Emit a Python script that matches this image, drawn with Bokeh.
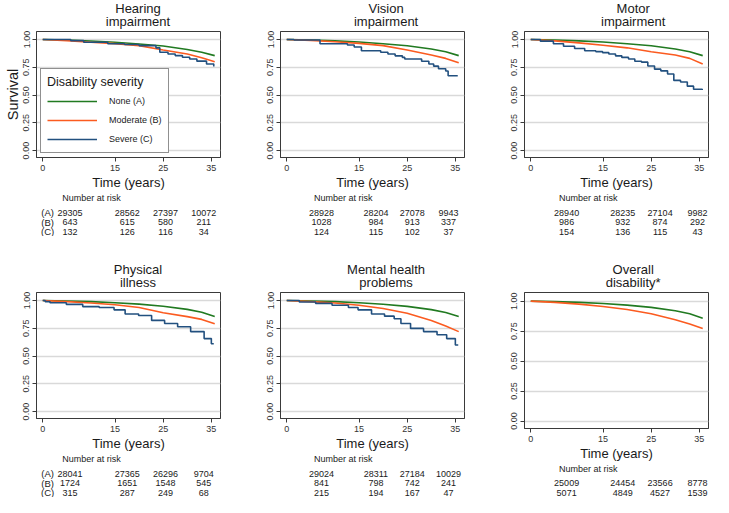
from bokeh.plotting import figure
from bokeh.layouts import column, row
from bokeh.models import Range1d, FixedTicker, NumeralTickFormatter, Legend, LegendItem, Spacer
from bokeh.embed import file_html
from bokeh.resources import INLINE
from bokeh.core.properties import value

FONT = "Liberation Sans"
GREEN = "#217a21"
ORANGE = "#fb5b20"
BLUE = "#22507f"
TXT = "#1a1a1a"

# ---------------- data ----------------
GROUP_LABELS = ["None (A)", "Moderate (B)", "Severe (C)"]
ROW_TAGS = ["(A)", "(B)", "(C)"]
PANEL_TITLES = [("Hearing", "impairment"), ("Vision", "impairment"), ("Motor", "impairment"),
                ("Physical", "illness"), ("Mental health", "problems"), ("Overall", "disability*")]
X_TICKS = [0, 15, 25, 35]
Y_TICKS = [0, 0.25, 0.5, 0.75, 1.0]

# times (years) for the smooth curves of the large groups
T_SMOOTH = [0, 5, 10, 15, 20, 25, 30, 33, 35.7]

hearing_none = [1.0, 0.995, 0.987, 0.975, 0.960, 0.942, 0.910, 0.885, 0.855]
hearing_mod = [1.0, 0.990, 0.975, 0.963, 0.945, 0.905, 0.870, 0.835, 0.800]
hearing_sev_t = [0, 5.8, 8.5, 13.5, 17, 20, 23.5, 24.3, 26, 27.5, 29, 30.5, 32, 34, 35.5]
hearing_sev_s = [1.0, 0.99, 0.975, 0.962, 0.955, 0.945, 0.925, 0.885, 0.87, 0.855, 0.84, 0.825, 0.805, 0.78, 0.757]

vision_none = [1.0, 0.995, 0.988, 0.977, 0.962, 0.944, 0.915, 0.890, 0.855]
vision_mod = [1.0, 0.992, 0.980, 0.965, 0.945, 0.905, 0.860, 0.830, 0.790]
vision_sev_t = [0, 1.5, 6.9, 12.6, 14, 15.5, 19.5, 21, 22.5, 24, 24.5, 28, 29.5, 30.5, 31.5, 33, 33.5, 35.5]
vision_sev_s = [1.0, 0.995, 0.962, 0.95, 0.933, 0.899, 0.885, 0.87, 0.853, 0.839, 0.824, 0.804, 0.78, 0.76, 0.737, 0.717, 0.674, 0.674]

motor_none = [1.0, 0.995, 0.988, 0.977, 0.962, 0.944, 0.915, 0.890, 0.855]
motor_mod = [1.0, 0.988, 0.970, 0.948, 0.925, 0.890, 0.860, 0.830, 0.780]
motor_sev_t = [0, 2.0, 4.7, 6.8, 9.1, 11.2, 13.5, 14.9, 16.2, 17.6, 18.9, 20.3, 21.6, 23.0, 24.3,
               25.7, 27.0, 28.4, 29.7, 31.1, 32.5, 33.8, 35.6]
motor_sev_s = [1.0, 0.985, 0.962, 0.939, 0.919, 0.899, 0.891, 0.882, 0.870, 0.853, 0.839, 0.824, 0.804,
               0.796, 0.761, 0.733, 0.718, 0.690, 0.632, 0.617, 0.580, 0.552, 0.546]

physical_none = [1.0, 0.996, 0.990, 0.980, 0.967, 0.948, 0.920, 0.895, 0.855]
physical_mod = [1.0, 0.990, 0.978, 0.962, 0.937, 0.890, 0.855, 0.830, 0.790]
physical_sev_t = [0, 0.5, 1.5, 4.9, 8.3, 11.7, 14.8, 17.1, 19.9, 22.6, 25.3, 28.0, 30.7, 33.5, 35.0, 35.5]
physical_sev_s = [1.0, 0.99, 0.98, 0.965, 0.945, 0.937, 0.916, 0.879, 0.865, 0.821, 0.793, 0.764, 0.72, 0.657, 0.611, 0.611]

mental_none = [1.0, 0.996, 0.990, 0.980, 0.966, 0.947, 0.918, 0.892, 0.855]
mental_mod = [1.0, 0.990, 0.977, 0.957, 0.928, 0.885, 0.820, 0.770, 0.720]
mental_sev_t = [0, 2.6, 6.0, 9.4, 12.8, 14.8, 17.6, 20.3, 22.3, 23.7, 25.7, 28.4, 31.2, 33.2, 35.0, 35.6]
mental_sev_s = [1.0, 0.986, 0.974, 0.957, 0.937, 0.916, 0.879, 0.859, 0.836, 0.793, 0.749, 0.72, 0.692, 0.657, 0.60, 0.60]

overall_none = [1.0, 0.996, 0.990, 0.980, 0.967, 0.948, 0.920, 0.895, 0.858]
overall_dis = [1.0, 0.990, 0.975, 0.955, 0.930, 0.895, 0.845, 0.810, 0.771]

# number at risk at X_TICKS
hearing_nar = [[29305, 28562, 27397, 10072], [643, 615, 580, 211], [132, 126, 116, 34]]
vision_nar = [[28928, 28204, 27078, 9943], [1028, 984, 913, 337], [124, 115, 102, 37]]
motor_nar = [[28940, 28235, 27104, 9982], [986, 932, 874, 292], [154, 136, 115, 43]]
physical_nar = [[28041, 27365, 26296, 9704], [1724, 1651, 1548, 545], [315, 287, 249, 68]]
mental_nar = [[29024, 28311, 27184, 10029], [841, 798, 742, 241], [215, 194, 167, 47]]
overall_nar = [[25009, 24454, 23566, 8778], [5071, 4849, 4527, 1539]]

# ---------------- layout constants ----------------
X0, X1 = -1.3, 36.9
Y0, Y1 = -0.062, 1.072
F = 184                      # frame width
LB = [36, 48, 48]            # left borders per column
RB = [12, 12, 5]             # right borders per column
TITLE_H = 30
TOP, BOT = 1, 34
FRAME_H = 127
TABLE_H = 44
GAP = 25
EXTRA = 10                   # taller frame in last panel (only two rows at risk)
S = F / (X1 - X0)            # pixels per year


def strip(ci, height):
    """Axis-less figure sharing the panel's x scale, used for title and at-risk text."""
    W = LB[ci] + F + RB[ci]
    f = figure(width=W, height=height, output_backend="svg", toolbar_location=None,
               x_range=Range1d(X0 - LB[ci] / S, X1 + RB[ci] / S), y_range=Range1d(height, 0),
               x_axis_location=None, y_axis_location=None,
               min_border=0, min_border_left=0, min_border_right=0, min_border_top=0, min_border_bottom=0)
    f.outline_line_color = None
    f.grid.visible = False
    f.background_fill_color = "white"
    f.border_fill_color = "white"
    return f


def make_panel(ci, title, none_s, mod_s, sev_t, sev_s, nar, ylabel=False, legend=False, tags=False):
    W = LB[ci] + F + RB[ci]
    extra = EXTRA if sev_t is None else 0

    # ---- two-line title ----
    tf = strip(ci, TITLE_H)
    tf.text(x=[(X0 + X1) / 2] * 2, y=[8.3, 20.8], text=list(title), text_align="center",
            text_baseline="middle", text_font=value(FONT), text_font_size=value("13px"), text_color=TXT)

    # ---- survival plot ----
    p = figure(width=W, height=TOP + FRAME_H + BOT + extra, output_backend="svg", toolbar_location=None,
               x_range=Range1d(X0, X1), y_range=Range1d(Y0, Y1),
               min_border_left=LB[ci], min_border_right=RB[ci], min_border_top=TOP, min_border_bottom=BOT)
    p.outline_line_color = "#3a3a3a"
    p.outline_line_width = 1
    p.background_fill_color = "white"
    p.border_fill_color = "white"
    p.xgrid.visible = False
    p.ygrid.ticker = FixedTicker(ticks=Y_TICKS)
    p.ygrid.grid_line_color = "#d9d9d9"
    p.ygrid.grid_line_width = 1.5

    xa = p.xaxis[0]
    xa.ticker = FixedTicker(ticks=X_TICKS)
    xa.axis_label = "Time (years)"
    xa.axis_label_text_font = FONT
    xa.axis_label_text_font_size = "13px"
    xa.axis_label_text_font_style = "normal"
    xa.axis_label_text_color = TXT
    xa.axis_label_standoff = 1
    ya = p.yaxis[0]
    ya.ticker = FixedTicker(ticks=Y_TICKS)
    ya.formatter = NumeralTickFormatter(format="0.00")
    ya.major_label_orientation = "vertical"
    if ylabel:
        ya.axis_label = "Survival"
        ya.axis_label_text_font = FONT
        ya.axis_label_text_font_size = "14.5px"
        ya.axis_label_text_font_style = "normal"
        ya.axis_label_text_color = TXT
        ya.axis_label_standoff = 0
    for ax in (xa, ya):
        ax.axis_line_color = "#3a3a3a"
        ax.major_tick_line_color = "#3a3a3a"
        ax.major_tick_out = 4
        ax.major_tick_in = 0
        ax.minor_tick_line_color = None
        ax.major_label_text_font = FONT
        ax.major_label_text_font_size = "9px"
        ax.major_label_text_color = "#333333"
        ax.major_label_standoff = 3

    r1 = p.line(T_SMOOTH, none_s, line_color=GREEN, line_width=1.6)
    r2 = p.line(T_SMOOTH, mod_s, line_color=ORANGE, line_width=1.6)
    rends = [r1, r2]
    if sev_t is not None:
        r3 = p.step(sev_t, sev_s, mode="after", line_color=BLUE, line_width=1.6)
        rends.append(r3)

    if legend:
        lg = Legend(items=[LegendItem(label=lab, renderers=[r]) for lab, r in zip(GROUP_LABELS, rends)],
                    title="Disability severity", location=(4, 4), margin=0, padding=6,
                    spacing=5, glyph_width=50, glyph_height=14, label_height=14, label_standoff=12,
                    title_standoff=5, border_line_color="#222222", border_line_width=1,
                    background_fill_color="white", background_fill_alpha=1.0)
        lg.label_text_font = FONT
        lg.label_text_font_size = "9px"
        lg.label_text_color = TXT
        lg.title_text_font = FONT
        lg.title_text_font_size = "12.5px"
        lg.title_text_font_style = "normal"
        lg.title_text_color = TXT
        p.add_layout(lg)

    # ---- number at risk table ----
    th = TABLE_H - extra
    t = strip(ci, th)
    if extra:
        ys = [5.3, 19.0, 29.0]
    else:
        ys = [5.3, 20.3, 29.8, 39.2]
    t.text(x=[X0 - 3.5 / S], y=[ys[0]], text=["Number at risk"], text_align="left",
           text_baseline="middle", text_font=value(FONT), text_font_size=value("9px"), text_color=TXT)
    for k, counts in enumerate(nar):
        t.text(x=X_TICKS, y=[ys[k + 1]] * len(X_TICKS), text=[str(c) for c in counts],
               text_align="center", text_baseline="middle", text_font=value(FONT),
               text_font_size=value("9px"), text_color=TXT)
        if tags:
            t.text(x=[X0 - 22 / S], y=[ys[k + 1]], text=[ROW_TAGS[k]], text_align="center",
                   text_baseline="middle", text_font=value(FONT), text_font_size=value("9.5px"),
                   text_color=TXT)
    return column(tf, p, t, spacing=0)


b1 = make_panel(0, PANEL_TITLES[0], hearing_none, hearing_mod, hearing_sev_t, hearing_sev_s, hearing_nar,
                ylabel=True, legend=True, tags=True)
b2 = make_panel(1, PANEL_TITLES[1], vision_none, vision_mod, vision_sev_t, vision_sev_s, vision_nar)
b3 = make_panel(2, PANEL_TITLES[2], motor_none, motor_mod, motor_sev_t, motor_sev_s, motor_nar)
b4 = make_panel(0, PANEL_TITLES[3], physical_none, physical_mod, physical_sev_t, physical_sev_s, physical_nar,
                tags=True)
b5 = make_panel(1, PANEL_TITLES[4], mental_none, mental_mod, mental_sev_t, mental_sev_s, mental_nar)
b6 = make_panel(2, PANEL_TITLES[5], overall_none, overall_dis, None, None, overall_nar)

layout = column(row(b1, b2, b3, spacing=0), Spacer(height=GAP), row(b4, b5, b6, spacing=0), spacing=0)

open("out.html", "w").write(file_html(layout, INLINE))
